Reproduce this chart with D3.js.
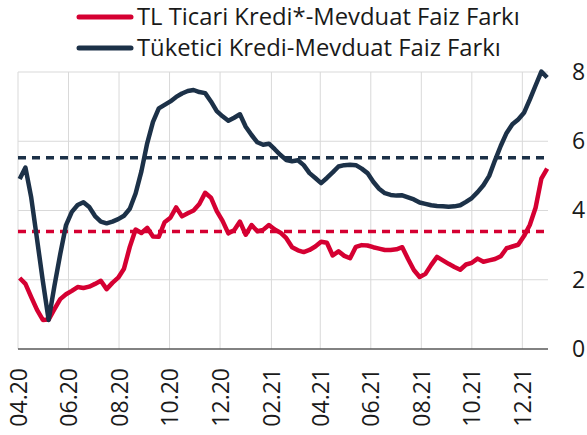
<!DOCTYPE html>
<html>
<head>
<meta charset="utf-8">
<script src="https://cdn.jsdelivr.net/npm/d3@7"></script>
<style>
  body { margin: 0; background: #fff; }
  svg text { font-family: "Open Sans", sans-serif; fill: #1a1a1a; }
</style>
</head>
<body>
<script>
// weekly series, first week ending 2020-04-03
var startDate = '2020-04-03';
var tickLabels = ['04.20','06.20','08.20','10.20','12.20','02.21','04.21','06.21','08.21','10.21','12.21'];
var yTicks = [0, 2, 4, 6, 8];
var seriesNames = ['TL Ticari Kredi*-Mevduat Faiz Farkı', 'Tüketici Kredi-Mevduat Faiz Farkı'];

var ticari = [2.05,1.88,1.50,1.13,0.84,0.85,1.15,1.44,1.58,1.68,1.79,1.76,1.80,1.88,1.97,1.73,1.91,2.06,2.32,2.95,
  3.45,3.35,3.50,3.25,3.24,3.66,3.79,4.09,3.83,3.92,4.00,4.19,4.51,4.37,3.98,3.70,3.34,3.43,3.68,3.30,
  3.58,3.40,3.44,3.58,3.45,3.36,3.20,2.94,2.85,2.80,2.86,2.96,3.10,3.07,2.70,2.82,2.69,2.62,2.95,3.00,
  2.99,2.94,2.90,2.86,2.86,2.88,2.94,2.60,2.28,2.08,2.17,2.43,2.66,2.56,2.46,2.37,2.29,2.44,2.49,2.61,
  2.52,2.56,2.60,2.68,2.91,2.96,3.01,3.26,3.58,4.08,4.92,5.21];

var tuketici = [4.91,5.24,4.37,3.17,1.96,0.84,1.82,2.74,3.58,3.96,4.16,4.24,4.10,3.84,3.68,3.63,3.68,3.75,3.85,4.05,
  4.49,5.13,5.94,6.56,6.95,7.05,7.15,7.28,7.38,7.45,7.48,7.42,7.39,7.15,6.87,6.72,6.59,6.68,6.78,6.42,
  6.18,5.97,5.90,5.93,5.77,5.60,5.46,5.42,5.45,5.31,5.08,4.94,4.79,4.94,5.10,5.27,5.31,5.32,5.31,5.21,
  5.08,4.83,4.63,4.50,4.45,4.43,4.44,4.38,4.32,4.23,4.19,4.15,4.13,4.12,4.11,4.12,4.15,4.25,4.36,4.53,
  4.73,5.00,5.45,5.87,6.24,6.49,6.63,6.82,7.20,7.61,8.01,7.84];

// long-run averages (dashed)
var ticariAvg = 3.39;
var tuketiciAvg = 5.52;

var colors = ['#d50032', '#1c3148'];

var width = 587, height = 435;
var margin = {top: 72, right: 39, bottom: 86, left: 18};

var parse = d3.timeParse('%Y-%m-%d');
var parseTick = d3.timeParse('%m.%y');
var dates = ticari.map(function(d, i) { return d3.timeDay.offset(parse(startDate), 7 * i); });

var x = d3.scaleTime()
  .domain([parse('2020-04-01'), parse('2022-01-01')])
  .range([margin.left, width - margin.right]);
var y = d3.scaleLinear().domain([0, 8]).range([height - margin.bottom, margin.top]);

var svg = d3.select('body').append('svg').attr('width', width).attr('height', height);

var tickDates = tickLabels.map(function(t) { return parseTick(t); });

// grid
svg.append('g').selectAll('line').data(yTicks.slice(1)).enter().append('line')
  .attr('x1', margin.left).attr('x2', width - margin.right)
  .attr('y1', function(d) { return y(d); }).attr('y2', function(d) { return y(d); })
  .attr('stroke', '#d9d9d9').attr('stroke-width', 1);
svg.append('g').selectAll('line').data(tickDates).enter().append('line')
  .attr('x1', function(d) { return x(d); }).attr('x2', function(d) { return x(d); })
  .attr('y1', margin.top).attr('y2', y(0))
  .attr('stroke', '#d9d9d9').attr('stroke-width', 1);

// x axis
var xAxis = svg.append('g').attr('transform', 'translate(0,' + y(0) + ')')
  .call(d3.axisBottom(x).tickValues(tickDates).tickFormat(d3.timeFormat('%m.%y')).tickSize(0));
xAxis.select('.domain').attr('stroke', '#595959').attr('stroke-width', 1.5)
  .attr('d', 'M' + margin.left + ',0H' + (width - margin.right));
xAxis.selectAll('text')
  .attr('font-family', '"Liberation Sans", Arial, sans-serif')
  .attr('font-size', 23).attr('fill', '#1a1a1a')
  .attr('text-anchor', 'end')
  .attr('transform', 'rotate(-90)')
  .attr('x', -19).attr('y', 0).attr('dy', '0.35em');

// y axis on right
var yAxis = svg.append('g').attr('transform', 'translate(' + (width - margin.right) + ',0)')
  .call(d3.axisRight(y).tickValues(yTicks).tickSize(0));
yAxis.select('.domain').remove();
yAxis.selectAll('text').attr('font-size', 23).attr('x', 24).attr('fill', '#1a1a1a')
  .attr('font-family', '"Open Sans", sans-serif');

// average dashed lines
svg.selectAll('line.avg').data([ticariAvg, tuketiciAvg]).enter().append('line')
  .attr('class', 'avg')
  .attr('x1', margin.left).attr('x2', width - margin.right)
  .attr('y1', function(d) { return y(d); }).attr('y2', function(d) { return y(d); })
  .attr('stroke', function(d, i) { return colors[i]; })
  .attr('stroke-width', 3.5).attr('stroke-dasharray', '8,6');

var line = d3.line()
  .x(function(d, i) { return x(dates[i]); })
  .y(function(d) { return y(d); });

svg.selectAll('path.series').data([ticari, tuketici]).enter().append('path')
  .attr('class', 'series')
  .attr('fill', 'none')
  .attr('stroke', function(d, i) { return colors[i]; })
  .attr('stroke-width', 4.5)
  .attr('stroke-linejoin', 'round')
  .attr('d', line);

// legend
var legend = svg.selectAll('g.legend').data(seriesNames).enter().append('g')
  .attr('class', 'legend')
  .attr('transform', function(d, i) { return 'translate(79,' + (17 + i * 31) + ')'; });
legend.append('line').attr('x1', 0).attr('x2', 52)
  .attr('stroke', function(d, i) { return colors[i]; })
  .attr('stroke-width', 5).attr('stroke-linecap', 'round');
legend.append('text').attr('x', 58).attr('dy', '0.35em')
  .attr('font-size', 23.8).text(function(d) { return d; });
</script>
</body>
</html>
